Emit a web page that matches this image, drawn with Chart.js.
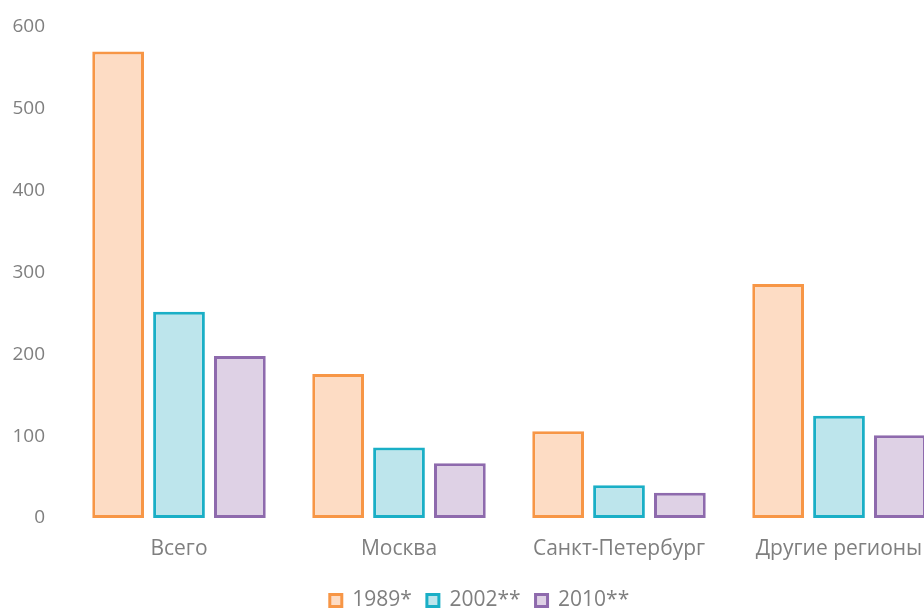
<!DOCTYPE html>
<html>
<head>
<meta charset="utf-8">
<script src="https://cdn.jsdelivr.net/npm/chart.js@4"></script>
<style>
  html, body { margin: 0; padding: 0; background: #fff; overflow: hidden; }
  #wrap { width: 956px; height: 621px; }
</style>
</head>
<body>
<div id="wrap"><canvas id="myChart"></canvas></div>
<script>
var categories = ["Всего", "Москва", "Санкт-Петербург", "Другие регионы"];
var seriesNames = ["1989*", "2002**", "2010**"];
var values1989 = [570, 176, 106, 286];
var values2002 = [252, 86, 40, 125];
var values2010 = [198, 67, 31, 101];
var yTicks = [0, 100, 200, 300, 400, 500, 600];

var fills = ["#fddcc4", "#bde5ec", "#ded1e5"];
var borders = ["#f79646", "#1aafc6", "#8e6aad"];
var series = [values1989, values2002, values2010];
var textFont = "'Open Sans', 'Noto Sans', sans-serif";

var ctx = document.getElementById("myChart").getContext("2d");
var myChart = new Chart(ctx, {
  type: "bar",
  data: {
    labels: categories,
    datasets: series.map(function(vals, i) {
      return {
        label: seriesNames[i],
        data: vals,
        backgroundColor: fills[i],
        borderColor: borders[i],
        borderWidth: 3,
        borderSkipped: false,
        barPercentage: 0.85,
        categoryPercentage: 0.83
      };
    })
  },
  options: {
    responsive: true,
    maintainAspectRatio: false,
    animation: false,
    layout: { padding: { top: 27, left: 10, right: 7, bottom: 0 } },
    plugins: {
      tooltip: { enabled: false },
      legend: {
        position: "bottom",
        labels: {
          color: "#7f7f7f",
          font: { family: textFont, size: 21 },
          boxWidth: 12,
          boxHeight: 12,
          padding: 15
        }
      }
    },
    scales: {
      x: {
        // keep the axis box tall so the legend sits lower
        afterFit: function(axis) {
          axis.height = 57;
        },
        grid: { display: false, drawTicks: false },
        border: { display: false },
        ticks: {
          color: "#7f7f7f",
          font: { family: textFont, size: 21 },
          padding: 18,
          maxRotation: 0
        }
      },
      y: {
        min: 0,
        max: 600,
        afterBuildTicks: function(axis) {
          axis.ticks = yTicks.map(function(v) { return { value: v }; });
        },
        afterFit: function(axis) {
          axis.width = 59;
          axis.paddingTop = 0;
          axis.paddingBottom = 0;
        },
        grid: { display: false, drawTicks: false },
        border: { display: false },
        ticks: {
          color: "#7f7f7f",
          font: { family: textFont, size: 19 },
          padding: 24
        }
      }
    }
  }
});
</script>
</body>
</html>
